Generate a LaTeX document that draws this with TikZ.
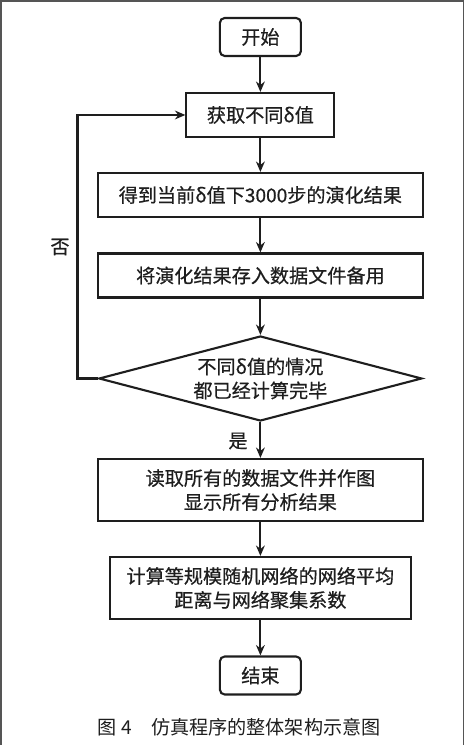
\documentclass[tikz,border=0pt]{standalone}
\usepackage{fontspec}
\setmainfont{Noto Sans CJK SC}
\newfontfamily\flowfont{Noto Sans CJK SC}[FakeBold=0.6]
\usetikzlibrary{arrows.meta,shapes.geometric}
\definecolor{flowink}{RGB}{30,30,30}
\definecolor{framegray}{RGB}{85,85,85}

\begin{document}
\begin{tikzpicture}[
  every node/.style={font=\flowfont\fontsize{13.6}{17}\selectfont, text=flowink},
  procbox/.style={draw=flowink, line width=1.5pt, rectangle, minimum height=1.1cm, align=center, inner sep=2pt},
  termbox/.style={procbox, rounded corners=0.12cm, minimum width=2.025cm, minimum height=0.95cm},
  decbox/.style={draw=flowink, line width=1.5pt, diamond, aspect=3.8, minimum width=8.075cm, minimum height=2.125cm, align=center, inner sep=0pt},
  flowarrow/.style={draw=flowink, line width=1.5pt, -{Stealth[length=2.6mm,width=2.2mm]}}
]
  \useasboundingbox (0,0) rectangle (11.625,18.625);
  % frame round the figure
  \draw[framegray, line width=1.1pt] (0.02,0) -- (0.02,18.6) -- (11.59,18.6) -- (11.59,0);

  \node[termbox] (start) at (6.51, 17.7) {开始};
  \node[procbox, minimum width=3.7cm] (get) at (6.51, 15.75) {获取不同δ值};
  \node[procbox, minimum width=8.125cm] (run) at (6.51, 13.75) {得到当前δ值下3000步的演化结果};
  \node[procbox, minimum width=8.125cm] (save) at (6.51, 11.7375) {将演化结果存入数据文件备用};
  \node[decbox] (check) at (6.51, 9.1625) {不同δ值的情况\\都已经计算完毕};
  \node[procbox, minimum width=8.125cm, minimum height=1.55cm] (plot) at (6.51, 6.375) {读取所有的数据文件并作图\\显示所有分析结果};
  \node[procbox, minimum width=7.525cm, minimum height=1.55cm] (rand) at (6.51, 3.925) {计算等规模随机网络的网络平均\\距离与网络聚集系数};
  \node[termbox] (stop) at (6.51, 1.7375) {结束};

  \draw[flowarrow] (start) -- (get);
  \draw[flowarrow] (get) -- (run);
  \draw[flowarrow] (run) -- (save);
  \draw[flowarrow] (save) -- (check);
  \draw[flowarrow] (check) -- (plot);
  \draw[flowarrow] (plot) -- (rand);
  \draw[flowarrow] (rand) -- (stop);

  % loop back when not finished
  \coordinate (loop) at (1.9375, 15.75);
  \draw[flowarrow] (check.west) -| (loop) -- (get.west);
  \node (no) at (1.5, 12.45) {否};
  \node (yes) at (5.95, 7.6) {是};

  \node[anchor=west, font=\rmfamily\fontsize{13.6}{17}\selectfont] (caption) at (2.325, 0.45) {图~4\hspace{1em}仿真程序的整体架构示意图};
\end{tikzpicture}
\end{document}
